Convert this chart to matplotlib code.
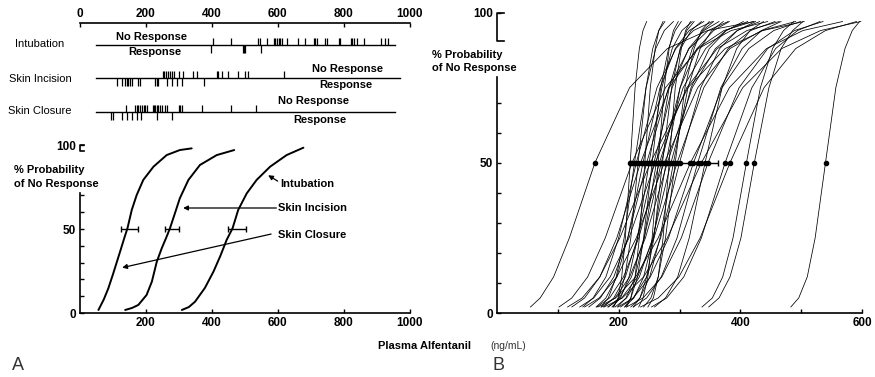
import matplotlib
matplotlib.use('Agg')
import matplotlib.pyplot as plt

plt.rcParams['font.family'] = ['Liberation Sans', 'DejaVu Sans']

# --- Panel A, top strip: individual responses (ng/mL) ---
row_names = ['Intubation', 'Skin Incision', 'Skin Closure']
row_ends = [957, 972, 957]
intub_no = [405, 458, 539, 547, 567, 588, 593, 598, 603, 608, 613, 628, 661, 684, 709,
            714, 719, 745, 750, 785, 790, 821, 826, 833, 841, 863, 912, 927, 934]
intub_resp = [397, 494, 498, 502, 549]
incis_no = [251, 255, 260, 268, 274, 279, 284, 299, 314, 342, 355, 415, 420, 431, 449,
            479, 502, 509, 618]
incis_resp = [111, 127, 137, 144, 147, 152, 157, 177, 182, 228, 233, 238, 263, 279,
              294, 309, 377]
clos_no = [140, 167, 172, 177, 182, 187, 193, 198, 203, 221, 225, 229, 233, 238, 243,
           250, 258, 265, 299, 304, 309, 370, 458, 535]
clos_resp = [93, 101, 127, 142, 157, 172, 184, 233, 279]

# --- Panel A, bottom: group curves ---
closure_x = [56, 72, 86, 100, 112, 124, 135, 144, 157, 172, 192, 223, 263, 303, 339]
closure_y = [1.8, 8, 14.7, 23, 30.5, 38, 45, 50.4, 61.3, 70.2, 79.2, 87.1, 94, 97, 98]
incision_x = [137, 158, 177, 202, 218, 233, 248, 262, 273, 288, 303, 329, 364, 415, 468]
incision_y = [1.8, 3, 4.8, 10.7, 18.6, 30.5, 38.5, 45, 50.4, 59.3, 68.3, 79.2, 88.1,
              94, 97]
intub_x = [309, 330, 349, 379, 405, 426, 445, 463, 480, 506, 536, 577, 627, 678]
intub_y = [1.8, 3.5, 6.7, 14.9, 24.6, 34, 43.5, 50.4, 61.3, 71.2, 79.2, 87.1, 94, 98.4]
a_c50 = [150, 279, 476]
a_sd = [25, 20, 28]

# --- Panel B: individual curves, x at given probability levels ---
b_levels = [2, 5, 12, 25, 50, 75, 88, 94, 97]
b_curves = [
    [55, 71, 93, 119, 161, 218, 280, 346, 423],
    [192, 199, 205, 211, 219, 227, 234, 240, 246],
    [102, 123, 149, 178, 222, 277, 331, 385, 445],
    [171, 183, 196, 209, 226, 245, 261, 275, 290],
    [141, 158, 179, 200, 229, 263, 294, 323, 354],
    [191, 200, 210, 220, 232, 245, 256, 266, 276],
    [123, 144, 169, 197, 236, 283, 329, 373, 421],
    [163, 179, 197, 215, 240, 268, 293, 316, 340],
    [213, 220, 227, 234, 243, 252, 260, 266, 273],
    [151, 170, 192, 215, 246, 282, 316, 347, 380],
    [189, 203, 217, 231, 250, 271, 288, 304, 321],
    [116, 140, 169, 202, 252, 314, 375, 437, 505],
    [210, 220, 231, 241, 255, 269, 282, 293, 303],
    [175, 192, 211, 231, 258, 288, 315, 340, 365],
    [136, 159, 186, 217, 260, 312, 362, 411, 464],
    [198, 212, 227, 242, 262, 283, 302, 319, 336],
    [233, 240, 248, 255, 265, 275, 283, 290, 298],
    [164, 185, 208, 233, 267, 306, 343, 376, 412],
    [183, 201, 221, 242, 270, 301, 329, 356, 382],
    [224, 235, 246, 258, 272, 287, 301, 312, 324],
    [144, 168, 197, 229, 275, 330, 383, 435, 491],
    [210, 225, 241, 257, 278, 301, 321, 338, 356],
    [172, 194, 218, 244, 280, 321, 359, 395, 432],
    [248, 257, 265, 273, 283, 293, 303, 310, 318],
    [194, 213, 234, 256, 286, 319, 349, 377, 405],
    [220, 235, 251, 268, 290, 314, 334, 353, 372],
    [241, 253, 265, 277, 293, 309, 324, 336, 349],
    [182, 205, 231, 258, 296, 340, 380, 417, 457],
    [203, 224, 246, 269, 300, 335, 366, 395, 425],
    [166, 195, 228, 265, 318, 382, 443, 503, 568],
    [199, 224, 252, 282, 323, 370, 414, 455, 499],
    [224, 246, 270, 296, 330, 368, 403, 435, 467],
    [176, 206, 241, 280, 336, 404, 468, 532, 598],
    [259, 277, 297, 316, 342, 370, 394, 416, 438],
    [213, 240, 271, 303, 347, 398, 445, 489, 536],
    [254, 279, 307, 336, 375, 419, 458, 494, 531],
    [236, 265, 299, 334, 383, 439, 491, 540, 591],
    [337, 354, 371, 388, 410, 433, 453, 471, 488],
    [348, 365, 383, 401, 423, 447, 467, 486, 503],
    [483, 496, 510, 523, 540, 557, 572, 584, 596],
]
b_c50 = [161, 219, 222, 226, 229, 232, 236, 240, 243, 246, 250, 252, 255, 258, 260,
         262, 265, 267, 270, 272, 275, 278, 280, 283, 286, 290, 293, 296, 300, 318,
         323, 330, 336, 342, 347, 375, 383, 410, 423, 540]
b_mean = 291
b_sd = 73

fig = plt.figure(figsize=(8.75, 3.77), dpi=100)
W, H = 875.0, 377.0

# ---------- top strip ----------
axT = fig.add_axes([80 / W, 1 - 130 / H, 329.5 / W, 107.3 / H])
axT.set_xlim(0, 1000)
axT.set_ylim(3.54, 0.334)
for s in ['left', 'right', 'bottom']:
    axT.spines[s].set_visible(False)
axT.spines['top'].set_linewidth(1.2)
axT.xaxis.tick_top()
axT.set_xticks([0, 200, 400, 600, 800, 1000])
axT.tick_params(axis='x', direction='in', length=3, width=1, labelsize=8.5, pad=2)
for lab in axT.get_xticklabels():
    lab.set_fontweight('bold')
axT.set_yticks([])

no_lists = [intub_no, incis_no, clos_no]
resp_lists = [intub_resp, incis_resp, clos_resp]
no_txt = [(218, 0.76), (813, 1.73), (710, 2.67)]
resp_txt = [(228, 1.21), (807, 2.21), (728, 3.24)]
for i in range(3):
    r = i + 1
    axT.plot([50, row_ends[i]], [r, r], color='black', lw=1.0)
    axT.vlines(no_lists[i], r - 0.22, r, color='black', lw=0.9)
    axT.vlines(resp_lists[i], r, r + 0.24, color='black', lw=0.9)
    axT.text(no_txt[i][0], no_txt[i][1], 'No Response', ha='center', va='center',
             fontsize=8, fontweight='bold')
    axT.text(resp_txt[i][0], resp_txt[i][1], 'Response', ha='center', va='center',
             fontsize=8, fontweight='bold')

row_py = [44, 79, 111]
for name, py in zip(row_names, row_py):
    fig.text(40 / W, 1 - py / H, name, ha='center', va='center', fontsize=8)

# ---------- panel A bottom ----------
axA = fig.add_axes([80 / W, 1 - 313 / H, 329.5 / W, 168 / H])
axA.set_xlim(0, 1000)
axA.set_ylim(0, 100)
axA.spines['top'].set_visible(False)
axA.spines['right'].set_visible(False)
axA.spines['left'].set_bounds(0, 71.5)
axA.spines['left'].set_linewidth(1.2)
axA.spines['bottom'].set_linewidth(1.2)
axA.set_xticks([200, 400, 600, 800, 1000])
axA.set_yticks([0, 10, 20, 30, 40, 50, 60, 70, 100])
axA.set_yticklabels(['0', '', '', '', '', '50', '', '', '100'])
axA.tick_params(direction='in', length=3, width=1, labelsize=8.5, pad=3)
for lab in axA.get_xticklabels() + axA.get_yticklabels():
    lab.set_fontweight('bold')
tr = axA.get_yaxis_transform()
axA.plot([0.012, 0, 0, 0.012], [100, 100, 96.6, 96.6], color='black', lw=1.2,
         transform=tr, clip_on=False)

for xs, ys in [(closure_x, closure_y), (incision_x, incision_y), (intub_x, intub_y)]:
    axA.plot(xs, ys, color='black', lw=1.4, solid_capstyle='round',
             solid_joinstyle='round')
axA.errorbar(a_c50, [50] * 3, xerr=a_sd, fmt='none', ecolor='black', elinewidth=1.0,
             capsize=2.5, capthick=1.0)

arrow = dict(arrowstyle='-|>', lw=0.9, color='black', mutation_scale=7,
             shrinkA=0, shrinkB=0)
axA.annotate('', xy=(571, 82), xytext=(600, 78.5), arrowprops=arrow)
axA.text(608, 77, 'Intubation', fontsize=8, fontweight='bold', va='center')
axA.annotate('', xy=(313, 62.5), xytext=(596, 62.5), arrowprops=arrow)
axA.text(602, 62.5, 'Skin Incision', fontsize=8, fontweight='bold', va='center')
axA.annotate('', xy=(128, 27), xytext=(580, 47), arrowprops=arrow)
axA.text(602, 46.6, 'Skin Closure', fontsize=8, fontweight='bold', va='center')

fig.text(14 / W, 1 - 170 / H, '% Probability', fontsize=8, fontweight='bold', va='center')
fig.text(14 / W, 1 - 184 / H, 'of No Response', fontsize=8, fontweight='bold', va='center')

# ---------- panel B ----------
axB = fig.add_axes([497 / W, 1 - 313 / H, 365 / W, 300.5 / H])
axB.set_xlim(0, 600)
axB.set_ylim(0, 100)
axB.spines['top'].set_visible(False)
axB.spines['right'].set_visible(False)
axB.spines['left'].set_bounds(0, 78.5)
axB.spines['left'].set_linewidth(1.2)
axB.spines['bottom'].set_linewidth(1.2)
axB.set_xticks([100, 200, 300, 400, 500, 600])
axB.set_xticklabels(['', '200', '', '400', '', '600'])
axB.set_yticks([0, 10, 20, 30, 40, 50, 60, 70, 100])
axB.set_yticklabels(['0', '', '', '', '', '50', '', '', '100'])
axB.tick_params(direction='in', length=3, width=1, labelsize=8.5, pad=3)
for lab in axB.get_xticklabels() + axB.get_yticklabels():
    lab.set_fontweight('bold')
trB = axB.get_yaxis_transform()
axB.plot([0.02, 0, 0, 0.02], [100, 100, 90.5, 90.5], color='black', lw=1.2,
         transform=trB, clip_on=False)

for xs in b_curves:
    axB.plot(xs, b_levels, color='black', lw=0.55, solid_joinstyle='round')
axB.errorbar([b_mean], [50], xerr=[b_sd], fmt='none', ecolor='black', elinewidth=1.0,
             capsize=2.5, capthick=1.0, zorder=3)
axB.plot(b_c50, [50] * len(b_c50), 'o', color='black', ms=3.0, zorder=4)

fig.text(432 / W, 1 - 55 / H, '% Probability', fontsize=8, fontweight='bold', va='center')
fig.text(432 / W, 1 - 68 / H, 'of No Response', fontsize=8, fontweight='bold', va='center')

# ---------- shared labels ----------
fig.text(378 / W, 1 - 346 / H, 'Plasma Alfentanil', fontsize=8, fontweight='bold',
         va='center')
fig.text(490 / W, 1 - 346 / H, '(ng/mL)', fontsize=7.5, color='#333333', va='center')
fig.text(12 / W, 1 - 365 / H, 'A', fontsize=13, color='#333333', va='center')
fig.text(492 / W, 1 - 365 / H, 'B', fontsize=13, color='#333333', va='center')

fig.savefig('out.png', dpi=100, facecolor='white')
